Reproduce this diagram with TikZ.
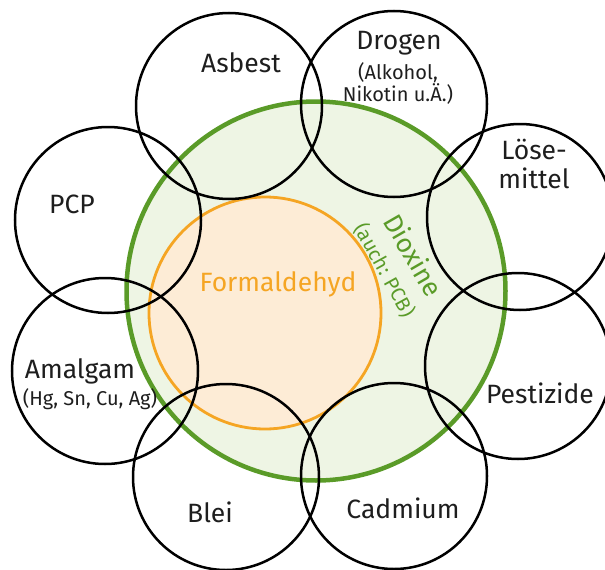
\documentclass[tikz,border=0pt]{standalone}
\usepackage{fontspec}
\setmainfont{Fira Sans}
\usetikzlibrary{positioning}

\definecolor{dioxgreen}{RGB}{90,155,40}
\definecolor{dioxfill}{RGB}{238,245,228}
\definecolor{formorange}{RGB}{245,165,35}
\definecolor{formfill}{RGB}{253,236,214}
\definecolor{inktext}{RGB}{30,30,30}

\begin{document}
\begin{tikzpicture}[
  x=1pt, y=-1pt,
  stoff/.style={
    circle, draw=black, line width=2.5pt,
    minimum size=186pt, inner sep=0pt
  },
  label/.style={
    anchor=base, inner sep=0pt, text=inktext,
    font=\fontsize{26.5}{29}\selectfont, align=center
  },
  sublabel/.style={
    anchor=base, inner sep=0pt, text=inktext,
    font=\fontsize{20}{18.5}\selectfont, align=center
  }
]
\useasboundingbox (0,0) rectangle (605,570);

% grosse Kreise
\node[circle, draw=dioxgreen, fill=dioxfill, line width=4.5pt,
      minimum size=379pt, inner sep=0pt] (dioxine) at (316,291) {};
\node[circle, draw=formorange, fill=formfill, line width=2.8pt,
      minimum size=232pt, inner sep=0pt] (formaldehyd) at (265,313) {};

% aeussere Kreise
\node[stoff] (asbest)    at (229,106) {};
\node[stoff] (drogen)    at (394,104) {};
\node[stoff] (loese)     at (520,217) {};
\node[stoff] (pestizide) at (518,366) {};
\node[stoff] (cadmium)   at (394,476) {};
\node[stoff] (blei)      at (226,477) {};
\node[stoff] (amalgam)   at (105,371) {};
\node[stoff] (pcp)       at (108,220) {};

% Beschriftungen
\node[label] (asbesttext) at (241,72) {Asbest};
\node[label] (drogentext) at (399,49) {Drogen};
\node[sublabel, anchor=north] (drogensub) at (398,62) {(Alkohol,\\Nikotin u.Ä.)};
\node[label, anchor=base] (loesetext) at (534,188) {Löse-\\mittel};
\node[label] (pcptext) at (72,213) {PCP};
\node[label] (amalgamtext) at (80,378) {Amalgam};
\node[sublabel] (amalgamsub) at (90,405) {(Hg, Sn, Cu, Ag)};
\node[label] (pestizidetext) at (540,403) {Pestizide};
\node[label] (bleitext) at (210,522) {Blei};
\node[label] (cadmiumtext) at (403,518) {Cadmium};

\node[label, text=formorange, font=\fontsize{26.5}{30}\selectfont]
  (formaldehydtext) at (278,291) {Formaldehyd};
\node[label, anchor=center, text=dioxgreen, font=\fontsize{26.5}{30}\selectfont,
  rotate=-60] (dioxintext) at (414,255) {Dioxine};
\node[sublabel, anchor=center, text=dioxgreen, rotate=-61]
  (dioxinsub) at (385,270) {(auch: PCB)};

\end{tikzpicture}
\end{document}
